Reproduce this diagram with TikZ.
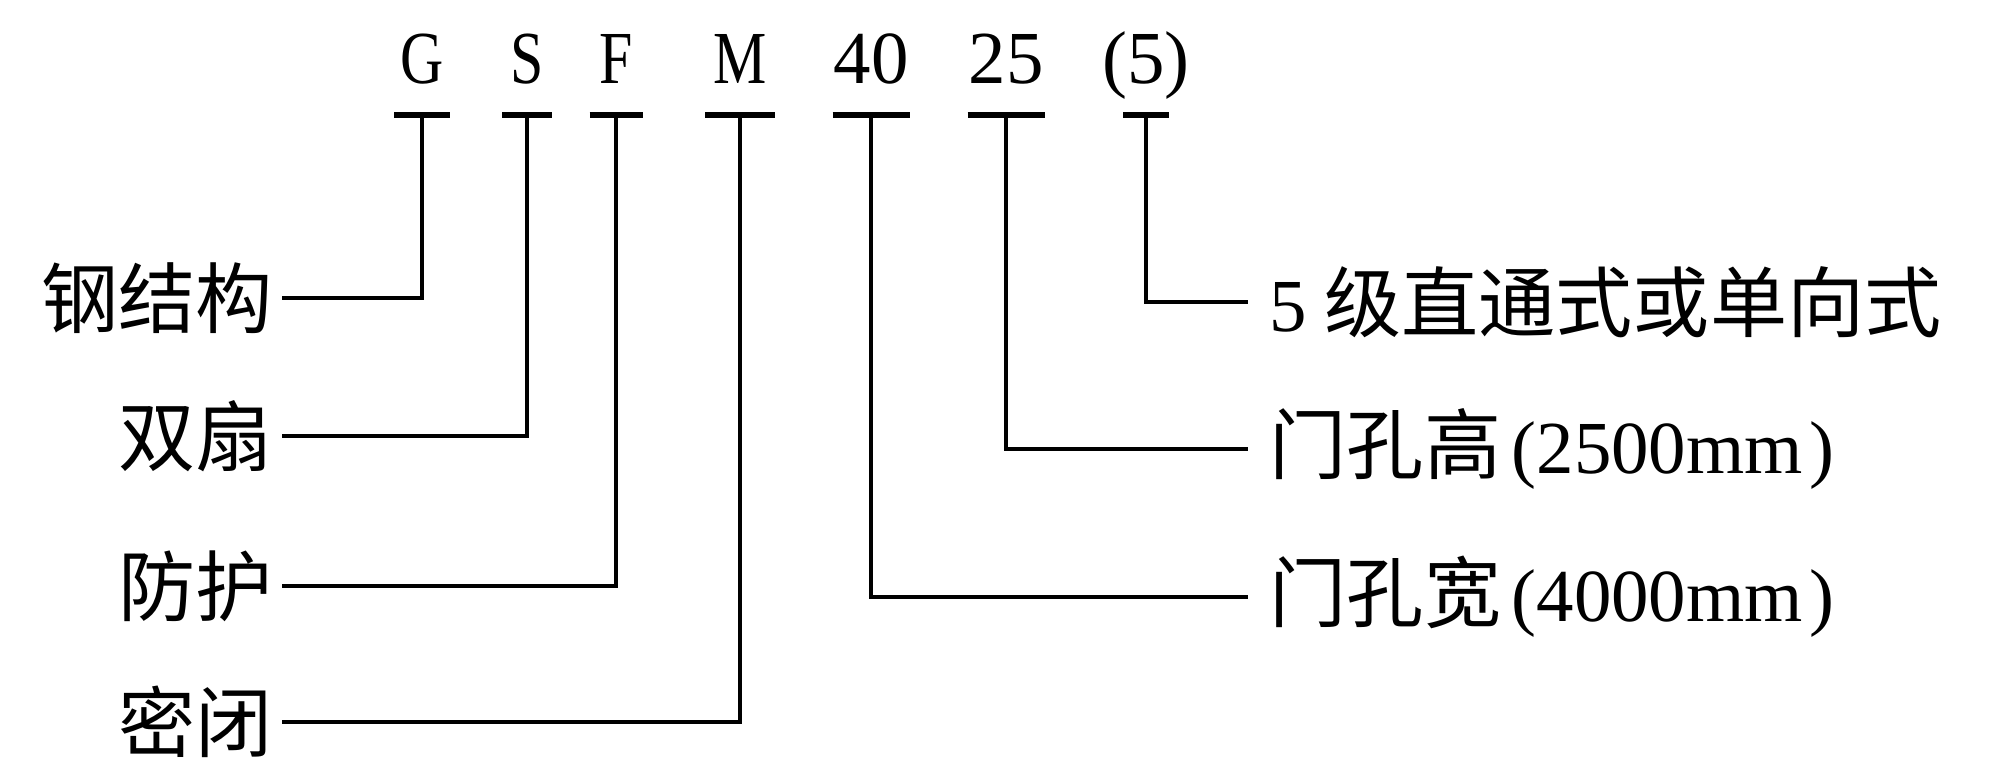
\documentclass[tikz,border=0pt]{standalone}
\usepackage{fontspec}
\setmainfont{Liberation Serif}
\newfontfamily\cjk[Scale=1.03]{Noto Sans CJK SC}
\newfontfamily\narrowrm[FakeStretch=0.8]{Liberation Serif}

\tikzset{
	codeletter/.style={anchor=base, inner sep=0pt, font=\fontsize{21.3pt}{24pt}\selectfont},
	codebar/.style={line width=1.5pt},
	leader/.style={line width=1.3pt},
	lbl/.style={inner xsep=2.5pt, inner ysep=0pt, font=\fontsize{21.3pt}{24pt}\selectfont\cjk},
	rlbl/.style={lbl, anchor=west, inner xsep=6pt},
}

\begin{document}
\begin{tikzpicture}
		\useasboundingbox (0,0) rectangle (19.91,-7.59);

		% model code with its bars
		\foreach \n/\x/\t/\w in {G/4.22/{\narrowrm G}/0.28, S/5.27/{\narrowrm S}/0.25, F/6.16/{\narrowrm F}/0.265, M/7.40/{\narrowrm M}/0.35, 40/8.71/40/0.385, 25/10.06/25/0.385, 5/11.46/(5)/0.23} {
			\node[codeletter] (c\n) at (\x,-0.83) {\t};
			\coordinate (b\n) at (\x,-1.15);
			\draw[codebar] (b\n) ++(-\w,0) -- ++(2*\w,0);
		}

		% left side
		\node[lbl, anchor=east] (lG) at (2.82,-2.98) {钢结构};
		\node[lbl, anchor=east] (lS) at (2.82,-4.36) {双扇};
		\node[lbl, anchor=east] (lF) at (2.82,-5.86) {防护};
		\node[lbl, anchor=east] (lM) at (2.82,-7.22) {密闭};
		\draw[leader] (lG.east) -| (bG);
		\draw[leader] (lS.east) -| (bS);
		\draw[leader] (lF.east) -| (bF);
		\draw[leader] (lM.east) -| (bM);

		% right side
		\node[rlbl] (r5) at (12.48,-3.02) {{\rmfamily 5} 级直通式或单向式};
		\node[rlbl] (r25) at (12.48,-4.49) {门孔高{\rmfamily\kern3pt(2500mm\kern2pt)}};
		\node[rlbl] (r40) at (12.48,-5.97) {门孔宽{\rmfamily\kern3pt(4000mm\kern2pt)}};
		\draw[leader] (b5) |- (r5.west);
		\draw[leader] (b25) |- (r25.west);
		\draw[leader] (b40) |- (r40.west);

	\end{tikzpicture}
\end{document}
